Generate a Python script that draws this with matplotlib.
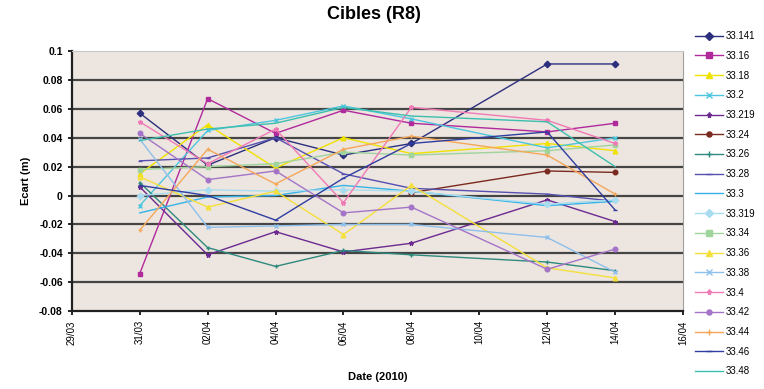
import numpy as np
import matplotlib
matplotlib.use('Agg')
import matplotlib.pyplot as plt
import matplotlib.dates as mdates
from datetime import datetime

plt.rcParams['font.family'] = ['Liberation Sans', 'DejaVu Sans']

# Dates des mesures (2010)
dates = ['31/03', '02/04', '04/04', '06/04', '08/04', '12/04', '14/04']

names = ['33.141', '33.16', '33.18', '33.2', '33.219', '33.24', '33.26', '33.28', '33.3',
         '33.319', '33.34', '33.36', '33.38', '33.4', '33.42', '33.44', '33.46', '33.48']

nan = np.nan
s33_141 = [0.057, 0.021, 0.040, 0.028, 0.036, 0.091, 0.091]
s33_16 = [-0.054, 0.067, 0.043, 0.059, 0.050, 0.044, 0.050]
s33_18 = [0.015, 0.049, 0.019, 0.040, 0.029, 0.036, 0.031]
s33_2 = [-0.007, 0.045, 0.052, 0.062, 0.053, 0.033, 0.040]
s33_219 = [0.006, -0.041, -0.025, -0.039, -0.033, -0.003, -0.018]
s33_24 = [nan, nan, nan, nan, 0.002, 0.017, 0.016]
s33_26 = [0.009, -0.036, -0.049, -0.038, -0.041, -0.046, -0.052]
s33_28 = [0.024, 0.026, 0.040, 0.015, 0.005, 0.001, -0.004]
s33_3 = [-0.012, -0.001, 0.000, 0.007, 0.003, -0.007, -0.004]
s33_319 = [0.000, 0.004, 0.003, 0.004, 0.003, -0.006, -0.003]
s33_34 = [0.018, 0.020, 0.022, 0.030, 0.028, 0.031, 0.035]
s33_36 = [0.013, -0.008, 0.003, -0.027, 0.007, -0.050, -0.057]
s33_38 = [0.039, -0.022, -0.021, -0.020, -0.020, -0.029, -0.053]
s33_4 = [0.051, 0.022, 0.046, -0.005, 0.061, 0.052, 0.036]
s33_42 = [0.043, 0.011, 0.017, -0.012, -0.008, -0.051, -0.037]
s33_44 = [-0.024, 0.032, 0.008, 0.032, 0.041, 0.028, 0.001]
s33_46 = [0.007, 0.000, -0.017, 0.012, 0.036, 0.044, -0.010]
s33_48 = [0.038, 0.046, 0.050, 0.061, 0.055, 0.051, 0.020]

series = [s33_141, s33_16, s33_18, s33_2, s33_219, s33_24, s33_26, s33_28, s33_3,
          s33_319, s33_34, s33_36, s33_38, s33_4, s33_42, s33_44, s33_46, s33_48]

colors = ['#2b2f7e', '#b02a9c', '#f0e200', '#4cc6de', '#6a2a90', '#7a2a1e', '#2e8a7e', '#5650b0', '#35b2e6',
          '#a8dcf0', '#9fd49c', '#f4e03a', '#8ec0ec', '#f07ab5', '#a474c8', '#f5a85a', '#2f3ea0', '#3cbfae']
markers = ['D', 's', '^', 'x', '*', 'o', '+', '_', None,
           'D', 's', '^', 'x', '*', 'o', '+', '_', None]

x = [datetime.strptime(d + '/2010', '%d/%m/%Y') for d in dates]

fig = plt.figure(figsize=(7.64, 3.89), dpi=100)
ax = fig.add_axes([0.094, 0.2, 0.8, 0.669])
ax.set_facecolor('#ede5e0')

for yv in np.arange(-0.06, 0.081, 0.02):
    ax.axhline(yv, color='#454545', linewidth=1.6, zorder=1)

for name, vals, c, m in zip(names, series, colors, markers):
    ax.plot(x, vals, color=c, marker=m, markersize=3.3, linewidth=1.0, label=name, zorder=2)

ax.set_xlim(datetime(2010, 3, 29), datetime(2010, 4, 16))
ax.set_ylim(-0.08, 0.1)
ax.xaxis.set_major_locator(mdates.DayLocator(interval=2))
ax.xaxis.set_major_formatter(mdates.DateFormatter('%d/%m'))
ax.set_yticks(np.arange(-0.08, 0.101, 0.02))
ax.set_yticklabels(['-0.08', '-0.06', '-0.04', '-0.02', '0', '0.02', '0.04', '0.06', '0.08', '0.1'])
ax.tick_params(axis='x', labelrotation=90, labelsize=7, length=3, width=1.2)
ax.tick_params(axis='y', labelsize=7.5, length=3, width=1.2)
for lab in ax.get_yticklabels():
    lab.set_fontweight('bold')

ax.spines['left'].set_linewidth(1.6)
ax.spines['bottom'].set_linewidth(1.6)
ax.spines['left'].set_color('#202020')
ax.spines['bottom'].set_color('#202020')
ax.spines['top'].set_color('#c8c8c8')
ax.spines['right'].set_color('#a0a0a0')

ax.set_xlabel('Date (2010)', fontsize=8, fontweight='bold', labelpad=20)
ax.set_ylabel('Ecart (m)', fontsize=8, fontweight='bold', labelpad=6)
fig.suptitle('Cibles (R8)', fontsize=13, fontweight='bold', y=0.985, x=0.49)

fig.legend(loc='upper left', bbox_to_anchor=(0.905, 0.93), frameon=False, fontsize=7,
           labelspacing=1.0, handlelength=2.8, handletextpad=0.3, borderaxespad=0,
           markerscale=1.1)

fig.savefig('out.png', dpi=100)
